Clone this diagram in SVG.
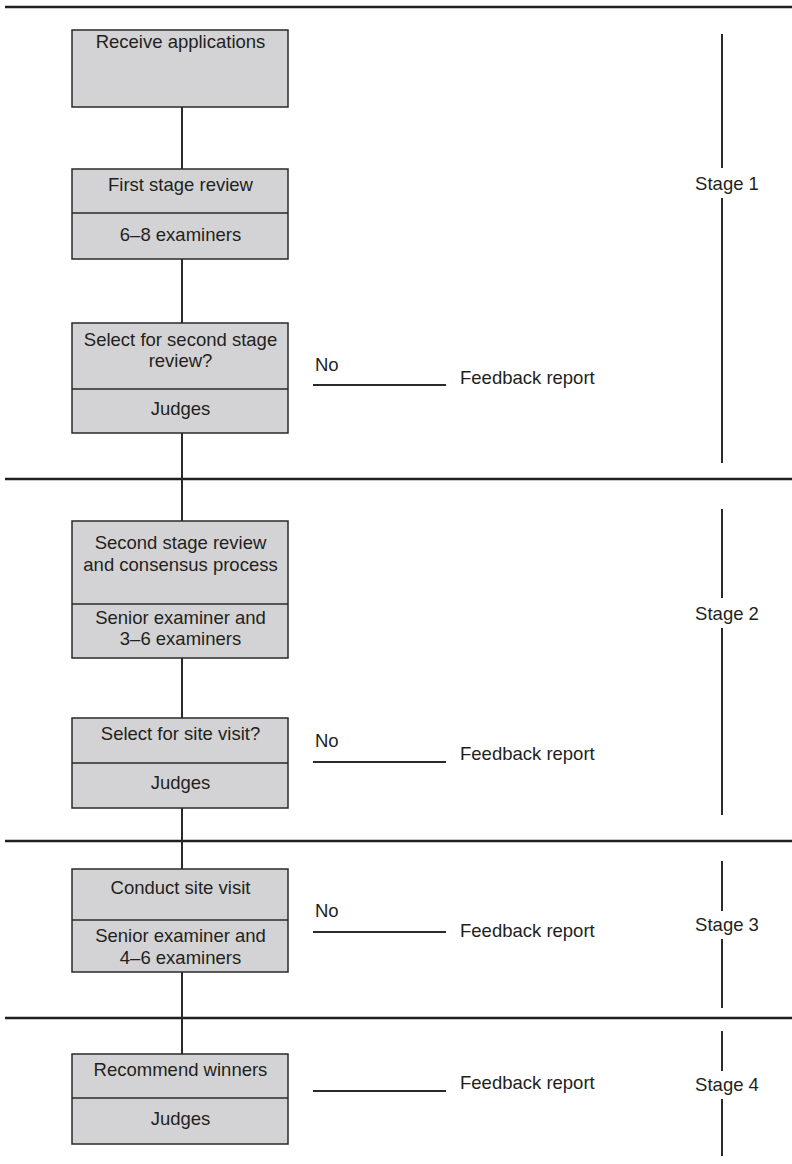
<svg xmlns="http://www.w3.org/2000/svg" width="792" height="1164" viewBox="0 0 792 1164">
  <style>
    .box { fill: #d3d3d5; stroke: #2a2a2a; stroke-width: 1.5; }
    .div { stroke: #2a2a2a; stroke-width: 1.5; }
    .t { font-family: "Liberation Sans", Arial, sans-serif; font-size: 18.5px; fill: #231f20; }
    .c { text-anchor: middle; }
    .sep { stroke: #231f20; stroke-width: 2.5; }
    .link { stroke: #2a2a2a; stroke-width: 2; fill: none; }
    .bar { stroke: #2a2a2a; stroke-width: 2; }
  </style>
  <rect width="792" height="1164" fill="#ffffff"/>

  <!-- stage separators -->
  <g id="separators">
    <line class="sep" x1="5" y1="7" x2="792" y2="7"/>
    <line class="sep" x1="5" y1="479" x2="792" y2="479"/>
    <line class="sep" x1="5" y1="841" x2="792" y2="841"/>
    <line class="sep" x1="5" y1="1018" x2="792" y2="1018"/>
  </g>

  <!-- connectors between process boxes -->
  <g id="connectors">
    <line class="link" x1="182" y1="107" x2="182" y2="169"/>
    <line class="link" x1="182" y1="259" x2="182" y2="323"/>
    <line class="link" x1="182" y1="433" x2="182" y2="521"/>
    <line class="link" x1="182" y1="658" x2="182" y2="718"/>
    <line class="link" x1="182" y1="808" x2="182" y2="869"/>
    <line class="link" x1="182" y1="972" x2="182" y2="1054"/>
    <line class="link" x1="313" y1="385" x2="446" y2="385"/>
    <line class="link" x1="313" y1="762" x2="446" y2="762"/>
    <line class="link" x1="313" y1="932" x2="446" y2="932"/>
    <line class="link" x1="313" y1="1091" x2="446" y2="1091"/>
  </g>

  <!-- process boxes -->
  <g id="receive">
    <rect class="box" x="72" y="30" width="216" height="77"/>
    <text class="t c" x="180.5" y="48">Receive applications</text>
  </g>
  <g id="first-review">
    <rect class="box" x="72" y="169" width="216" height="90"/>
    <line class="div" x1="72" y1="213" x2="288" y2="213"/>
    <text class="t c" x="180.5" y="191">First stage review</text>
    <text class="t c" x="180.5" y="241">6–8 examiners</text>
  </g>
  <g id="select-second">
    <rect class="box" x="72" y="323" width="216" height="110"/>
    <line class="div" x1="72" y1="389" x2="288" y2="389"/>
    <text class="t c" x="180.5" y="346">Select for second stage</text>
    <text class="t c" x="180.5" y="367">review?</text>
    <text class="t c" x="180.5" y="415">Judges</text>
  </g>
  <g id="second-review">
    <rect class="box" x="72" y="521" width="216" height="137"/>
    <line class="div" x1="72" y1="604" x2="288" y2="604"/>
    <text class="t c" x="180.5" y="549">Second stage review</text>
    <text class="t c" x="180.5" y="571">and consensus process</text>
    <text class="t c" x="180.5" y="624">Senior examiner and</text>
    <text class="t c" x="180.5" y="645">3–6 examiners</text>
  </g>
  <g id="select-site">
    <rect class="box" x="72" y="718" width="216" height="90"/>
    <line class="div" x1="72" y1="763" x2="288" y2="763"/>
    <text class="t c" x="180.5" y="740">Select for site visit?</text>
    <text class="t c" x="180.5" y="789">Judges</text>
  </g>
  <g id="site-visit">
    <rect class="box" x="72" y="869" width="216" height="103"/>
    <line class="div" x1="72" y1="920" x2="288" y2="920"/>
    <text class="t c" x="180.5" y="894">Conduct site visit</text>
    <text class="t c" x="180.5" y="942">Senior examiner and</text>
    <text class="t c" x="180.5" y="964">4–6 examiners</text>
  </g>
  <g id="recommend">
    <rect class="box" x="72" y="1054" width="216" height="90"/>
    <line class="div" x1="72" y1="1098" x2="288" y2="1098"/>
    <text class="t c" x="180.5" y="1076">Recommend winners</text>
    <text class="t c" x="180.5" y="1125">Judges</text>
  </g>

  <!-- rejection outcomes -->
  <g id="feedback-1">
    <text class="t" x="315" y="371">No</text>
    <text class="t" x="460" y="384">Feedback report</text>
  </g>
  <g id="feedback-2">
    <text class="t" x="315" y="747">No</text>
    <text class="t" x="460" y="760">Feedback report</text>
  </g>
  <g id="feedback-3">
    <text class="t" x="315" y="917">No</text>
    <text class="t" x="460" y="937">Feedback report</text>
  </g>
  <g id="feedback-4">
    <text class="t" x="460" y="1089">Feedback report</text>
  </g>

  <!-- stage brackets -->
  <g id="stage-1">
    <line class="bar" x1="722" y1="34" x2="722" y2="168"/>
    <line class="bar" x1="722" y1="198" x2="722" y2="463"/>
    <text class="t c" x="727" y="190">Stage 1</text>
  </g>
  <g id="stage-2">
    <line class="bar" x1="722" y1="509" x2="722" y2="598"/>
    <line class="bar" x1="722" y1="628" x2="722" y2="815"/>
    <text class="t c" x="727" y="620">Stage 2</text>
  </g>
  <g id="stage-3">
    <line class="bar" x1="722" y1="861" x2="722" y2="911"/>
    <line class="bar" x1="722" y1="939" x2="722" y2="1008"/>
    <text class="t c" x="727" y="931">Stage 3</text>
  </g>
  <g id="stage-4">
    <line class="bar" x1="722" y1="1031" x2="722" y2="1071"/>
    <line class="bar" x1="722" y1="1099" x2="722" y2="1156"/>
    <text class="t c" x="727" y="1091">Stage 4</text>
  </g>
</svg>
